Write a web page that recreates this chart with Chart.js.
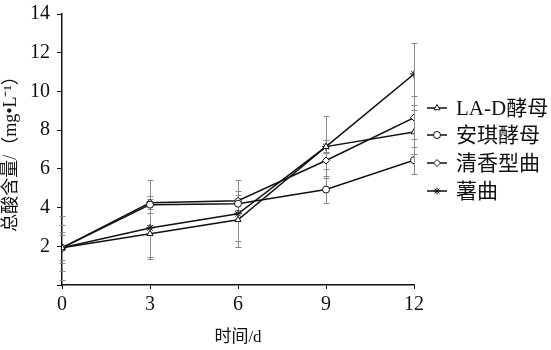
<!DOCTYPE html>
<html>
<head>
<meta charset="utf-8">
<script src="https://cdn.jsdelivr.net/npm/chart.js@4/dist/chart.umd.min.js"></script>
<style>
html,body{margin:0;padding:0;background:#fff;}
canvas{display:block;}
</style>
</head>
<body>
<canvas id="c" width="551" height="350"></canvas>
<script>
// ---- data ----
const days = [0, 3, 6, 9, 12];
const seriesNames = ['LA-D酵母', '安琪酵母', '清香型曲', '薯曲'];
const laD      = [1.92, 2.65, 3.37, 7.15, 7.9];
const angel    = [1.92, 4.15, 4.2, 4.93, 6.45];
const qingxiang= [1.92, 4.25, 4.35, 6.43, 8.65];
const shuqu    = [1.92, 2.95, 3.68, 7.15, 10.9];
const laDErr      = [0.8, 1.3, 1.1, 0.35, 1.15];
const angelErr    = [0.65, 0.45, 0.45, 0.7, 0.7];
const qingxiangErr= [1.2, 1.15, 0.5, 0.45, 1.1];
const shuquErr    = [1.65, 1.5, 1.72, 1.6, 1.6];
const yTicks = [0, 2, 4, 6, 8, 10, 12, 14];
const xTicks = [0, 3, 6, 9, 12];
const xTitle = '时间/d';
const yTitle = '总酸含量/（mg•L⁻¹）';

const FONT = '"Liberation Serif", "Noto Sans CJK SC", serif';
const pts = arr => days.map((d, i) => ({x: d, y: arr[i]}));

const styles = ['triangle', 'circle', 'rectRot', 'star'];
const values = [laD, angel, qingxiang, shuqu];
const errs = [laDErr, angelErr, qingxiangErr, shuquErr];

const datasets = seriesNames.map((name, i) => ({
  label: name,
  data: pts(values[i]),
  errors: errs[i],
  borderColor: '#111',
  borderWidth: 1.5,
  pointStyle: styles[i],
  pointRadius: i === 3 ? 4 : 3.5,
  pointBorderWidth: 1,
  pointBorderColor: '#111',
  pointBackgroundColor: '#fff',
  tension: 0,
  fill: false
}));

const errPlugin = {
  id: 'errorBars',
  beforeDatasetsDraw(chart) {
    const {ctx, scales: {x, y}} = chart;
    ctx.save();
    ctx.strokeStyle = '#8a8a8a';
    ctx.lineWidth = 1;
    chart.data.datasets.forEach(ds => {
      ds.data.forEach((p, i) => {
        const e = ds.errors[i];
        const px = Math.round(x.getPixelForValue(p.x)) + 0.5;
        const t = Math.round(y.getPixelForValue(p.y + e)) + 0.5;
        const b = Math.round(y.getPixelForValue(p.y - e)) + 0.5;
        ctx.beginPath();
        ctx.moveTo(px, t); ctx.lineTo(px, b);
        ctx.moveTo(px - 3, t); ctx.lineTo(px + 3, t);
        ctx.moveTo(px - 3, b); ctx.lineTo(px + 3, b);
        ctx.stroke();
      });
    });
    ctx.restore();
  }
};

const legendPlugin = {
  id: 'sideLegend',
  afterDraw(chart) {
    const ctx = chart.ctx;
    const rows = [108, 135, 163, 191];
    chart.data.datasets.forEach((ds, i) => {
      const yy = rows[i];
      ctx.save();
      ctx.strokeStyle = '#111';
      ctx.lineWidth = 1.5;
      ctx.beginPath();
      ctx.moveTo(427, yy); ctx.lineTo(447, yy);
      ctx.stroke();
      ctx.fillStyle = '#fff';
      ctx.lineWidth = 1;
      Chart.helpers.drawPoint(ctx, {pointStyle: ds.pointStyle, radius: 3.5, borderWidth: 1, rotation: 0}, 437, yy);
      ctx.fillStyle = '#111';
      ctx.font = '21px ' + FONT;
      ctx.textBaseline = 'middle';
      ctx.textAlign = 'left';
      ctx.fillText(ds.label, 456, yy + 1);
      ctx.restore();
    });
  }
};

new Chart(document.getElementById('c'), {
  type: 'line',
  data: {datasets},
  plugins: [errPlugin, legendPlugin],
  options: {
    responsive: false,
    animation: false,
    layout: {padding: {left: 0, right: 137, top: 0, bottom: 0}},
    plugins: {legend: {display: false}, tooltip: {enabled: false}},
    scales: {
      x: {
        type: 'linear',
        min: 0, max: 12,
        afterBuildTicks: s => { s.ticks = xTicks.map(v => ({value: v})); },
        afterFit: s => { s.height = 65; },
        ticks: {color: '#111', font: {family: FONT, size: 20}, padding: 4},
        grid: {display: true, drawOnChartArea: false, drawTicks: true, tickLength: 4, color: '#111', lineWidth: 1},
        border: {display: true, color: '#111', width: 1.5},
        title: {display: true, text: xTitle, color: '#111', font: {family: FONT, size: 17}, padding: {top: 0, bottom: 2}}
      },
      y: {
        type: 'linear',
        min: 0, max: 14,
        afterBuildTicks: s => { s.ticks = yTicks.map(v => ({value: v})); },
        afterFit: s => { s.width = 62; },
        ticks: {color: '#111', font: {family: FONT, size: 20, lineHeight: 0.7}, padding: 7,
                callback: v => (v === 0 ? '' : String(v))},
        grid: {display: true, drawOnChartArea: false, drawTicks: true, tickLength: 5, color: '#111', lineWidth: 1},
        border: {display: true, color: '#111', width: 1.5},
        title: {display: true, text: yTitle, color: '#111', font: {family: FONT, size: 18}, padding: {top: 0, bottom: 0}}
      }
    }
  }
});
</script>
</body>
</html>
